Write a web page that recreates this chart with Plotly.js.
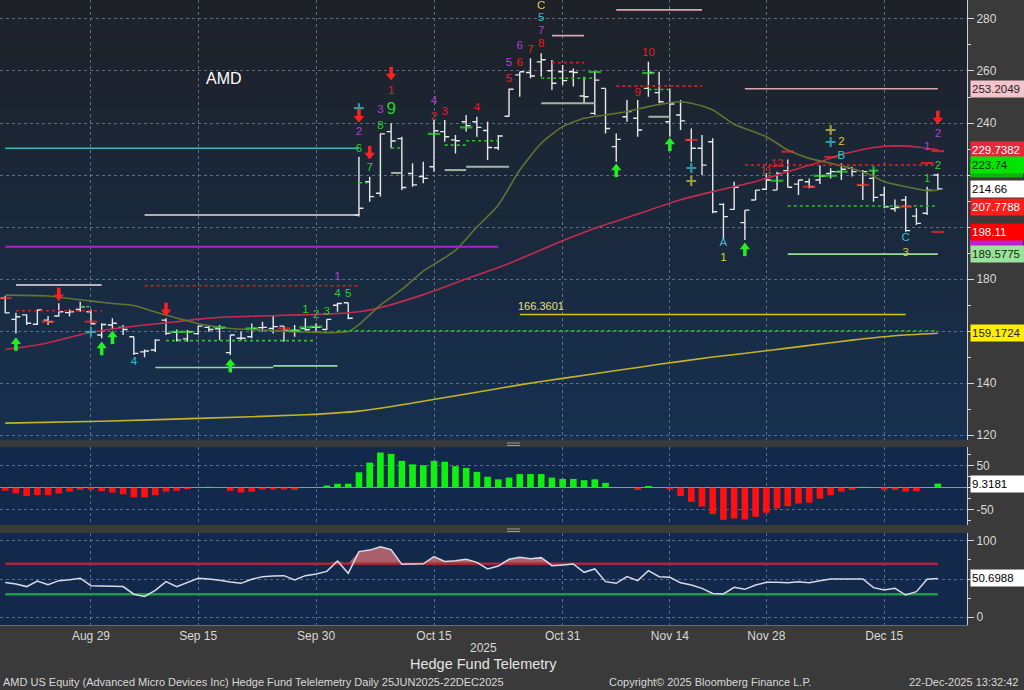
<!DOCTYPE html>
<html><head><meta charset="utf-8">
<script src="https://cdn.plot.ly/plotly-3.0.1.min.js"></script>
<style>html,body{margin:0;padding:0;background:#3a3a3a;}#chart{width:1024px;height:690px;}</style>
</head><body><div id="chart"></div>
<script>
// ---------------- DATA ----------------
const dates = ['2025-08-19','2025-08-20','2025-08-21','2025-08-22','2025-08-25','2025-08-26','2025-08-27','2025-08-28','2025-08-29',
'2025-09-02','2025-09-03','2025-09-04','2025-09-05','2025-09-08','2025-09-09','2025-09-10','2025-09-11','2025-09-12','2025-09-15','2025-09-16','2025-09-17','2025-09-18','2025-09-19','2025-09-22','2025-09-23','2025-09-24','2025-09-25','2025-09-26','2025-09-29','2025-09-30',
'2025-10-01','2025-10-02','2025-10-03','2025-10-06','2025-10-07','2025-10-08','2025-10-09','2025-10-10','2025-10-13','2025-10-14','2025-10-15','2025-10-16','2025-10-17','2025-10-20','2025-10-21','2025-10-22','2025-10-23','2025-10-24','2025-10-27','2025-10-28','2025-10-29','2025-10-30','2025-10-31',
'2025-11-03','2025-11-04','2025-11-05','2025-11-06','2025-11-07','2025-11-10','2025-11-11','2025-11-12','2025-11-13','2025-11-14','2025-11-17','2025-11-18','2025-11-19','2025-11-20','2025-11-21','2025-11-24','2025-11-25','2025-11-26','2025-11-28',
'2025-12-01','2025-12-02','2025-12-03','2025-12-04','2025-12-05','2025-12-08','2025-12-09','2025-12-10','2025-12-11','2025-12-12','2025-12-15','2025-12-16','2025-12-17','2025-12-18','2025-12-19','2025-12-22'];

const openP = [172.6,164.5,166.2,162.6,164.2,165.8,167.1,168.3,167.4,
158.5,162.3,161.4,157.8,152.0,152.7,164.2,159.5,157.0,159.0,161.4,160.9,151.7,157.2,157.8,161.3,161.0,161.9,160.2,161.0,161.4,
160.6,169.9,170.9,204.6,217.4,213.0,236.7,234.0,220.6,219.4,223.2,236.7,233.5,240.5,240.5,237.1,230.5,242.6,258.5,259.4,263.5,260.1,259.7,
259.7,250.4,243.7,253.3,230.9,242.4,241.8,253.3,251.7,240.5,243.1,233.5,230.3,232.8,208.7,206.8,201.7,210.4,214.5,
214.2,221.7,216.5,217.4,218.1,220.6,221.3,222.6,216.0,218.7,212.3,207.0,210.4,204.2,205.3,220.0];
const highP = [173.5,167.0,166.5,168.3,165.8,170.7,168.3,171.3,168.3,
163.0,164.9,162.3,157.8,152.9,156.8,164.9,160.6,160.4,161.9,162.3,162.3,158.5,159.7,162.9,163.6,166.2,161.9,162.3,164.9,163.0,
164.5,170.9,170.9,227.0,219.3,236.0,239.9,234.7,224.5,225.1,241.2,241.2,235.4,243.1,242.4,240.5,235.4,253.3,259.7,264.9,266.8,264.2,262.3,
261.0,257.8,259.7,253.3,236.0,248.8,248.8,263.6,259.7,253.3,248.8,237.9,235.4,234.1,209.1,217.4,206.5,214.2,220.6,
221.3,226.0,218.1,218.7,223.8,222.6,224.5,223.2,221.9,221.9,215.5,210.6,211.9,207.2,215.5,220.6];
const lowP = [166.8,159.1,162.3,162.3,162.3,165.5,165.6,167.4,162.8,
157.2,160.6,158.5,150.8,149.9,151.9,158.5,156.0,155.9,158.5,159.7,156.5,150.8,156.5,157.2,159.7,159.1,155.9,157.8,160.1,159.7,
160.4,167.4,164.5,204.0,209.7,211.7,230.3,214.2,215.5,216.8,221.3,232.8,228.3,236.7,234.7,225.8,229.6,242.4,250.1,257.2,257.8,252.7,254.6,
254.0,247.6,243.1,236.0,225.1,240.5,234.7,250.1,247.6,234.7,237.3,225.1,220.0,205.3,195.6,206.5,195.0,210.4,214.2,
214.2,215.3,212.3,214.9,216.5,218.7,218.1,219.4,210.4,209.7,207.2,205.9,198.2,200.8,204.6,214.2];
const closeP = [167.0,165.5,163.0,168.1,163.6,167.4,167.4,169.3,162.8,
162.5,163.0,160.6,151.4,152.3,156.5,159.1,156.5,159.7,161.9,160.6,161.2,158.5,157.2,161.0,161.4,161.7,160.2,160.2,160.5,161.4,
164.5,170.6,164.9,207.2,211.7,235.8,233.1,215.2,216.2,218.7,237.0,234.7,233.2,239.0,238.3,230.6,235.0,253.0,259.7,258.1,264.3,255.3,256.3,
259.4,250.1,256.5,237.9,233.7,244.4,237.3,259.4,248.2,247.3,240.8,230.3,223.8,205.9,204.0,215.3,206.5,214.2,218.1,
220.6,215.3,218.1,215.5,219.6,221.3,222.2,221.3,221.3,211.4,207.8,207.5,198.6,201.4,214.2,214.66];

// moving averages (read at selected dates)
const ma20Dates = ['2025-08-19','2025-08-25','2025-08-28','2025-09-03','2025-09-05','2025-09-09','2025-09-11','2025-09-15','2025-09-18','2025-09-23','2025-09-26','2025-10-01','2025-10-03','2025-10-06','2025-10-08','2025-10-10','2025-10-14','2025-10-17','2025-10-21','2025-10-23','2025-10-27','2025-10-29','2025-10-31','2025-11-04','2025-11-06','2025-11-10','2025-11-12','2025-11-14','2025-11-17','2025-11-18','2025-11-20','2025-11-24','2025-11-28','2025-12-02','2025-12-04','2025-12-08','2025-12-10','2025-12-12','2025-12-15','2025-12-17','2025-12-19','2025-12-22'];
const ma20Vals = [173.8,173.5,172.0,170.6,169.8,167.3,165.0,162.8,161.0,160.4,159.7,159.4,159.8,162.5,170.0,176.0,183.0,191.0,200.0,208.5,221.9,232.2,238.6,241.8,243.1,244.4,246.3,247.8,248.2,247.6,245.0,239.5,234.7,229.6,226.4,224.5,222.5,219.5,217.4,215.5,214.0,214.2];
const ma50Dates = ['2025-08-19','2025-08-22','2025-08-26','2025-08-29','2025-09-03','2025-09-08','2025-09-11','2025-09-15','2025-09-18','2025-09-23','2025-09-26','2025-10-01','2025-10-06','2025-10-08','2025-10-14','2025-10-20','2025-10-24','2025-10-30','2025-11-05','2025-11-11','2025-11-17','2025-11-20','2025-11-26','2025-12-02','2025-12-05','2025-12-09','2025-12-12','2025-12-16','2025-12-18','2025-12-22'];
const ma50Vals = [152.9,154.6,156.5,159.5,160.8,162.3,163.6,164.6,165.5,165.8,166.2,166.5,167.4,169.0,174.0,180.0,186.0,193.0,199.5,205.0,210.5,213.6,217.5,221.3,225.0,227.9,230.6,231.2,230.8,229.74];
const ma200Dates = ['2025-08-19','2025-09-02','2025-09-15','2025-09-29','2025-10-06','2025-10-13','2025-10-20','2025-10-27','2025-10-31','2025-11-07','2025-11-13','2025-11-20','2025-11-28','2025-12-04','2025-12-10','2025-12-16','2025-12-22'];
const ma200Vals = [124.6,125.3,126.4,127.8,129.2,132.3,135.8,139.3,141.8,144.8,147.2,150.0,152.4,154.5,156.5,158.2,159.17];

// horizontal level lines
const lvlStart = ['2025-08-20','2025-08-20','2025-09-08','2025-09-10','2025-09-09','2025-09-24','2025-09-08','2025-08-19','2025-08-19','2025-10-02','2025-10-27','2025-10-16','2025-10-20','2025-10-16','2025-10-20','2025-10-09','2025-10-09','2025-10-30','2025-10-29','2025-10-29','2025-11-07','2025-11-12','2025-11-12','2025-11-25','2025-12-02','2025-12-02','2025-11-25','2025-11-07','2025-10-30','2025-10-06','2025-08-28'];
const lvlEnd   = ['2025-09-02','2025-09-02','2025-10-06','2025-09-30','2025-09-24','2025-10-02','2025-10-06','2025-10-06','2025-10-23','2025-12-22','2025-12-17','2025-10-20','2025-10-24','2025-10-20','2025-10-23','2025-10-10','2025-10-10','2025-11-04','2025-11-05','2025-11-05','2025-11-19','2025-11-14','2025-11-14','2025-12-22','2025-12-22','2025-12-22','2025-12-22','2025-11-19','2025-11-04','2025-10-07','2025-08-29'];
const lvlValue = [177.7,167.8,177.4,156.3,146.0,146.6,204.6,230.3,192.4,160.1,166.36,221.9,223.2,231.5,233.2,230.4,220.8,263.2,257.2,247.6,254.2,252.9,242.4,223.8,208.1,189.58,253.2,283.5,273.6,217.0,169.4];
const lvlKind  = ['lavender','redDot','redDot','greenDot','lightGreen','lightGreen','white','cyan','magenta','greenDot','yellow','gray','gray','greenDot','greenDot','greenDot','gray','redDot','greenDot','gray','redDot','greenDot','gray','redDot','greenDot','lightGreen','pink','pink','pink','greenDot','greenDot'];

// sequential count labels
const sigDates = ['2025-09-05','2025-10-02','2025-10-02','2025-10-03','2025-09-29','2025-09-30','2025-10-01','2025-10-09','2025-10-06','2025-10-06','2025-10-07','2025-10-08','2025-10-09','2025-10-08','2025-10-15','2025-10-15','2025-10-16','2025-10-21','2025-10-24','2025-10-24','2025-10-27','2025-10-27','2025-10-28','2025-10-29','2025-10-29','2025-10-29','2025-10-29','2025-11-12','2025-11-11','2025-11-21','2025-11-21','2025-11-28','2025-12-01','2025-12-09','2025-12-09','2025-12-19','2025-12-22','2025-12-22','2025-12-19','2025-12-17','2025-12-17'];
const sigPrices = [148.2,180.6,174.2,174.2,168.1,166.2,167.4,252.1,236.3,229.9,222.6,245.0,245.0,238.8,248.6,242.2,244.3,245.7,263.1,256.9,269.6,263.1,268.1,275.4,270.2,280.2,285.0,266.9,251.5,193.7,188.1,221.5,224.2,232.7,227.3,230.8,235.8,223.5,218.5,195.8,190.0];
const sigTexts = ['4','1','4','5','1','2','3','1','2','6','7','3','9','8','4','2','3','4','5','5','6','6','7','7','8','5','C','10','9','A','1','11','12','2','B','1','2','2','1','C','3'];
const sigKinds = ['cyan','purple','green','green','green','green','green','red','purple','green','green','purple','greenBig','green','purple','red','red','red','purple','red','purple','red','red','purple','red','cyan','yellow','red','red','cyan','yellow','red','red','yellow','cyan','purple','purple','green','green','cyan','yellow'];

// signal arrows
const arrDates = ['2025-08-26','2025-09-10','2025-10-09','2025-10-06','2025-10-07','2025-12-22','2025-08-20','2025-09-02','2025-09-03','2025-09-18','2025-11-07','2025-11-14','2025-11-25'];
const arrPrices = [173.2,167.4,258.1,241.8,227.7,241.2,155.9,154.2,158.5,147.6,222.7,232.7,192.3];
const arrDir = ['down','down','down','down','down','down','up','up','up','up','up','up','up'];

// small tick markers
const dashDates = ['2025-11-05','2025-11-12','2025-10-15','2025-10-20','2025-09-11','2025-09-12','2025-09-17','2025-09-22','2025-09-26','2025-09-29','2025-09-30','2025-12-01','2025-12-05','2025-12-08','2025-12-09',
'2025-08-19','2025-08-25','2025-08-29','2025-09-25','2025-11-18','2025-12-04','2025-12-11','2025-12-08','2025-12-22','2025-12-22','2025-12-17','2025-12-19','2025-12-02',
'2025-08-29','2025-10-06','2025-11-18','2025-11-18','2025-12-08','2025-12-08','2025-12-12'];
const dashPrices = [259.6,259.2,235.8,238.3,159.7,159.7,161.4,161.0,160.1,161.4,161.7,217.8,219.7,219.7,221.3,
172.7,163.6,163.6,161.0,233.5,215.5,216.2,226.9,198.1,229.2,207.8,224.6,229.0,
159.7,245.7,222.7,217.7,237.3,232.7,221.7];
const dashKinds = ['gDash','gDash','gDash','gDash','gDash','gDash','gDash','gDash','gDash','gDash','gDash','gDash','gDash','gDash','gDash',
'rDash','rDash','rDash','rDash','rDash','rDash','rDash','rDash','rDash','rDash','rDash','rDash','rDash',
'cPlus','cPlus','cPlus','yPlus','yPlus','cPlus','gPlus'];

// histogram oscillator
const histVals = [-7,-13,-19,-17,-17,-13,-9,-5,-5,
-8,-11,-15,-22,-22,-17,-9,-7,-3,0,2,0,-7,-11,-9,-4,-4,-4,-5,0,0,
5,9,9,35,57,80,77,61,53,51,61,59,49,45,36,25,19,23,31,31,31,23,20,
20,17,19,11,0,0,-5,4,1.5,-4,-19,-32,-43,-60,-73,-70,-72,-66,-57,
-47,-42,-36,-34,-25,-17,-9,-5,2,0,-5,-5,-9,-8,0,9.3181];

// RSI
const rsiVals = [45.5,43.5,40,47.4,42.5,47.8,49,51,41.2,
41,40.5,40,30,27,35,46.5,40,45,50.9,50,48.5,46,44.3,49.6,53.1,54,54.4,48.7,54.4,56.6,
60,73.7,57.5,86,88,92.5,88.5,69.3,69.3,70,79.4,73,74,75.9,71.9,63.2,67,75.9,78.5,76.5,78.1,67.5,68.5,
69.7,58.8,63.2,46.5,44.3,53.1,47.8,60.9,53.1,52.2,45,42,37.7,31,30.3,39,36.4,42.1,45.6,
45.8,45.2,46.5,45.2,47.8,50,50,50,50,38.6,35.5,37.7,28.9,33.3,49.6,50.6988];
const rsiHigh = 70, rsiLow = 30;

// right-side value tags (visible) and partly hidden tags behind them
const tagValues = [253.2049,229.7382,223.74,214.66,207.7788,198.11,189.5775,159.1724];
const tagTexts  = ['253.2049','229.7382','223.74','214.66','207.7788','198.11','189.5775','159.1724'];
const hiddenTagValues = [192.38,221.75];
const histTag = '9.3181', rsiTag = '50.6988';

const priceTicks = [120,140,160,180,200,220,240,260,280];
const priceTickText = ['120','140','','180','','','240','260','280'];
const tickDates  = ['2025-08-29','2025-09-15','2025-09-30','2025-10-15','2025-10-31','2025-11-14','2025-11-28','2025-12-15'];
const tickLabels = ['Aug 29','Sep 15','Sep 30','Oct 15','Oct 31','Nov 14','Nov 28','Dec 15'];

(function(){
// ---------------- STYLE ----------------
const FONT = "'Liberation Sans', Arial, sans-serif";
const GRID = 'rgba(120,140,170,0.7)';
const lvlStyles = {
  lavender:{color:'#b8b2c6',width:2,dash:'solid'},
  redDot:{color:'#d42222',width:1.6,dash:'dot'},
  greenDot:{color:'#2ec02e',width:1.6,dash:'dot'},
  lightGreen:{color:'#98d898',width:1.6,dash:'solid'},
  white:{color:'#dcdcdc',width:1.6,dash:'solid'},
  cyan:{color:'#3cb6c0',width:1.6,dash:'solid'},
  magenta:{color:'#a424c8',width:2,dash:'solid'},
  yellow:{color:'#d6c400',width:1.4,dash:'solid'},
  gray:{color:'#a4b4a4',width:2,dash:'solid'},
  pink:{color:'#d8a8b0',width:1.6,dash:'solid'}
};
const sigColors = {cyan:'#2ec4d4',purple:'#b040d8',green:'#2ed02e',greenBig:'#2ed02e',red:'#e42020',yellow:'#d8d040'};
const tagBg = ['#f4c4cc','#e8283c','#00e400','#ffffff','#ff1c1c','#ff0000','#9ce29c','#ffee00'];
const tagFg = ['#222222','#ffffff','#062806','#000000','#ffffff','#ffffff','#0a300a','#222222'];
const hiddenBg = ['#c020d0','#10b010'];

const traces = [];
traces.push({type:'scatter',mode:'lines',x:ma200Dates,y:ma200Vals,line:{color:'#c4b424',width:1.6,shape:'spline',smoothing:0.6},xaxis:'x',yaxis:'y',hoverinfo:'skip'});
traces.push({type:'scatter',mode:'lines',x:ma50Dates,y:ma50Vals,line:{color:'#c62a4c',width:1.6,shape:'spline',smoothing:0.6},xaxis:'x',yaxis:'y',hoverinfo:'skip'});
traces.push({type:'scatter',mode:'lines',x:ma20Dates,y:ma20Vals,line:{color:'#627431',width:1.6,shape:'spline',smoothing:0.6},xaxis:'x',yaxis:'y',hoverinfo:'skip'});
for (let i=0;i<lvlValue.length;i++){
  traces.push({type:'scatter',mode:'lines',x:[lvlStart[i],lvlEnd[i]],y:[lvlValue[i],lvlValue[i]],line:lvlStyles[lvlKind[i]],xaxis:'x',yaxis:'y',hoverinfo:'skip'});
}
traces.push({type:'ohlc',x:dates,open:openP,high:highP,low:lowP,close:closeP,tickwidth:0.42,
  increasing:{line:{color:'#e8e8e8',width:1.4}},decreasing:{line:{color:'#e8e8e8',width:1.4}},xaxis:'x',yaxis:'y',hoverinfo:'skip'});
const dashSym = {gDash:'line-ew',rDash:'line-ew',cPlus:'cross-thin',yPlus:'cross-thin',gPlus:'cross-thin'};
const dashCol = {gDash:'#2ee02e',rDash:'#ff2a2a',cPlus:'#3cc8d8',yPlus:'#d8d040',gPlus:'#2ee02e'};
traces.push({type:'scatter',mode:'markers',x:dashDates,y:dashPrices,xaxis:'x',yaxis:'y',hoverinfo:'skip',
  marker:{symbol:dashKinds.map(k=>dashSym[k]),size:dashKinds.map(k=>k.endsWith('Dash')?9:7),
  line:{color:dashKinds.map(k=>dashCol[k]),width:2.2},color:dashKinds.map(k=>dashCol[k])}});
const arrCol = arrDir.map(d=>d==='up'?'#22ee22':'#ff2020');
traces.push({type:'scatter',mode:'markers',x:arrDates,y:arrPrices.map((p,i)=>p+(arrDir[i]==='down'?1.9:-1.9)),xaxis:'x',yaxis:'y',hoverinfo:'skip',cliponaxis:false,
  marker:{symbol:'line-ns',size:6,line:{color:arrCol,width:3.6}}});
traces.push({type:'scatter',mode:'markers',x:arrDates,y:arrPrices,xaxis:'x',yaxis:'y',hoverinfo:'skip',cliponaxis:false,
  marker:{symbol:arrDir.map(d=>d==='up'?'triangle-up':'triangle-down'),size:9,color:arrCol,line:{width:0}}});
traces.push({type:'scatter',mode:'text',x:sigDates,y:sigPrices,text:sigTexts,xaxis:'x',yaxis:'y',hoverinfo:'skip',cliponaxis:false,
  textposition:'middle center',textfont:{family:FONT,color:sigKinds.map(k=>sigColors[k]),size:sigKinds.map(k=>k==='greenBig'?17:11.5)}});

traces.push({type:'bar',x:dates,y:histVals,width:0.62,xaxis:'x',yaxis:'y2',hoverinfo:'skip',
  marker:{color:histVals.map(v=>v>=0?'#10f010':'#ff1010'),line:{width:0}}});

traces.push({type:'scatter',mode:'lines',x:dates,y:dates.map(()=>rsiHigh),line:{width:0,color:'rgba(0,0,0,0)'},xaxis:'x',yaxis:'y3',hoverinfo:'skip'});
traces.push({type:'scatter',mode:'lines',x:dates,y:rsiVals.map(v=>Math.max(v,rsiHigh)),fill:'tonexty',fillcolor:'rgba(196,104,116,0.85)',line:{width:0},xaxis:'x',yaxis:'y3',hoverinfo:'skip'});
traces.push({type:'scatter',mode:'lines',x:dates,y:dates.map(()=>rsiLow),line:{width:0,color:'rgba(0,0,0,0)'},xaxis:'x',yaxis:'y3',hoverinfo:'skip'});
traces.push({type:'scatter',mode:'lines',x:dates,y:rsiVals.map(v=>Math.min(v,rsiLow)),fill:'tonexty',fillcolor:'rgba(60,170,80,0.85)',line:{width:0},xaxis:'x',yaxis:'y3',hoverinfo:'skip'});
traces.push({type:'scatter',mode:'lines',x:[dates[0],dates[dates.length-1]],y:[rsiHigh,rsiHigh],line:{color:'#a8283a',width:2.5},xaxis:'x',yaxis:'y3',hoverinfo:'skip'});
traces.push({type:'scatter',mode:'lines',x:[dates[0],dates[dates.length-1]],y:[rsiLow,rsiLow],line:{color:'#22984a',width:2.5},xaxis:'x',yaxis:'y3',hoverinfo:'skip'});
traces.push({type:'scatter',mode:'lines',x:dates,y:rsiVals,line:{color:'#d6dae6',width:1.5},xaxis:'x',yaxis:'y3',hoverinfo:'skip'});

// ---------------- LAYOUT ----------------
const H = 625, PW = 967;
const priceDom = [1-440/H,1], histDom=[1-525/H,1-447/H], rsiDom=[0,1-533/H];

const shapes = [];
const NB = 24, cTop=[30,33,39], cBot=[22,48,80];
for (let i=0;i<NB;i++){
  const f=(i+0.5)/NB;
  const c=cTop.map((t,j)=>Math.round(t+(cBot[j]-t)*f));
  const y1=priceDom[1]-(priceDom[1]-priceDom[0])*i/NB, y0=priceDom[1]-(priceDom[1]-priceDom[0])*(i+1)/NB;
  shapes.push({type:'rect',xref:'paper',yref:'paper',x0:0,x1:1,y0:y0-0.0005,y1:y1+0.0005,fillcolor:`rgb(${c[0]},${c[1]},${c[2]})`,line:{width:0},layer:'below'});
}
[1-443/H,1-529/H].forEach((yy)=>{
  shapes.push({type:'line',xref:'paper',yref:'paper',x0:507/PW,x1:520/PW,y0:yy,y1:yy,line:{color:'#9a9a9a',width:1}});
  shapes.push({type:'line',xref:'paper',yref:'paper',x0:507/PW,x1:520/PW,y0:yy-0.004,y1:yy-0.004,line:{color:'#9a9a9a',width:1}});
});
const halfTag = 7/2.6;
hiddenTagValues.forEach((v,i)=>{
  shapes.push({type:'rect',xref:'paper',yref:'y',x0:1+3/PW,x1:1+56/PW,y0:v-halfTag,y1:v+halfTag,fillcolor:hiddenBg[i],line:{width:0},layer:'above'});
});

const annotations = [];
const mid = {showarrow:false,yanchor:'middle'};
annotations.push(Object.assign({xref:'paper',yref:'paper',x:224/PW,y:1-78/H,xanchor:'center',text:'AMD',font:{family:FONT,size:16,color:'#ffffff'}},mid));
annotations.push(Object.assign({xref:'x',yref:'y',x:'2025-10-27',y:169.6,xanchor:'left',xshift:-4,text:'166.3601',font:{family:FONT,size:11,color:'#e8e070'}},mid));
for (let i=0;i<tagValues.length;i++){
  annotations.push(Object.assign({xref:'paper',yref:'y',x:1,y:tagValues[i],xanchor:'left',xshift:3,text:tagTexts[i],
    width:53,height:14,align:'left',bgcolor:tagBg[i],borderpad:1,font:{family:FONT,size:11.5,color:tagFg[i]}},mid));
}
annotations.push(Object.assign({xref:'paper',yref:'y2',x:1,y:histVals[histVals.length-1],xanchor:'left',xshift:3,text:histTag,width:53,height:14,align:'left',bgcolor:'#ffffff',borderpad:1,font:{family:FONT,size:11.5,color:'#000'}},mid));
annotations.push(Object.assign({xref:'paper',yref:'y3',x:1,y:rsiVals[rsiVals.length-1],xanchor:'left',xshift:3,text:rsiTag,width:53,height:14,align:'left',bgcolor:'#ffffff',borderpad:1,font:{family:FONT,size:11.5,color:'#000'}},mid));
annotations.push(Object.assign({xref:'paper',yref:'paper',x:483/PW,xanchor:'center',y:(H-648)/H,text:'2025',font:{family:FONT,size:12,color:'#d8d8d8'}},mid));
annotations.push(Object.assign({xref:'paper',yref:'paper',x:483/PW,xanchor:'center',y:(H-664)/H,text:'Hedge Fund Telemetry',font:{family:FONT,size:14.5,color:'#e4e4e4'}},mid));
annotations.push(Object.assign({xref:'paper',yref:'paper',x:0.001,xanchor:'left',y:(H-682)/H,text:'AMD US Equity (Advanced Micro Devices Inc) Hedge Fund Telelemetry Daily 25JUN2025-22DEC2025',font:{family:FONT,size:11,color:'#d8d8d8'}},mid));
annotations.push(Object.assign({xref:'paper',yref:'paper',x:607/PW,xanchor:'left',y:(H-682)/H,text:'Copyright© 2025 Bloomberg Finance L.P.',font:{family:FONT,size:11,color:'#d8d8d8'}},mid));
annotations.push(Object.assign({xref:'paper',yref:'paper',x:1020/PW,xanchor:'right',y:(H-682)/H,text:'22-Dec-2025 13:32:42',font:{family:FONT,size:11,color:'#d8d8d8'}},mid));

const yCommon = {side:'right',anchor:'x',ticks:'outside',ticklen:6,tickcolor:'#d8d8d8',showline:true,linecolor:'#c8d0dc',linewidth:1,
  showgrid:true,gridcolor:GRID,griddash:'dot',gridwidth:1,tickfont:{family:FONT,size:12,color:'#d8d8d8'},fixedrange:true};

const layout = {
  width:1024,height:690,margin:{l:0,r:57,t:0,b:65,pad:0},
  paper_bgcolor:'#3a3a3a',plot_bgcolor:'#13294b',showlegend:false,hovermode:false,
  font:{family:FONT,color:'#d8d8d8',size:12},
  xaxis:{type:'category',categoryorder:'array',categoryarray:dates,range:[-0.485,89.72],anchor:'y3',
    tickmode:'array',tickvals:tickDates,ticktext:tickLabels,ticks:'',
    showgrid:true,gridcolor:GRID,griddash:'dot',gridwidth:1,showline:true,linecolor:'#6a6a6a',
    tickfont:{family:FONT,size:12,color:'#d8d8d8'},rangeslider:{visible:false},fixedrange:true},
  yaxis:Object.assign({},yCommon,{domain:priceDom,range:[118.1,287.3],tickmode:'array',tickvals:priceTicks,ticktext:priceTickText,zeroline:false,
    minor:{tickvals:[130,150,170,190,210,230,250,270],ticks:'outside',ticklen:3,tickcolor:'#d8d8d8',showgrid:false}}),
  yaxis2:Object.assign({},yCommon,{domain:histDom,range:[-84.8,92.5],tickmode:'array',tickvals:[-50,0,50],ticktext:['-50','','50'],
    zeroline:true,zerolinecolor:'#8898aa',zerolinewidth:1.5,
    minor:{tickvals:[-75,-25,25,75],ticks:'outside',ticklen:3,tickcolor:'#d8d8d8',showgrid:false}}),
  yaxis3:Object.assign({},yCommon,{domain:rsiDom,range:[-10.5,110.5],tickmode:'array',tickvals:[0,50,100],ticktext:['0','','100'],zeroline:false,
    minor:{tickvals:[25,75],ticks:'outside',ticklen:3,tickcolor:'#d8d8d8',showgrid:false}}),
  shapes:shapes,annotations:annotations
};

Plotly.newPlot('chart',traces,layout,{staticPlot:true,displayModeBar:false});
})();
</script>
</body></html>
